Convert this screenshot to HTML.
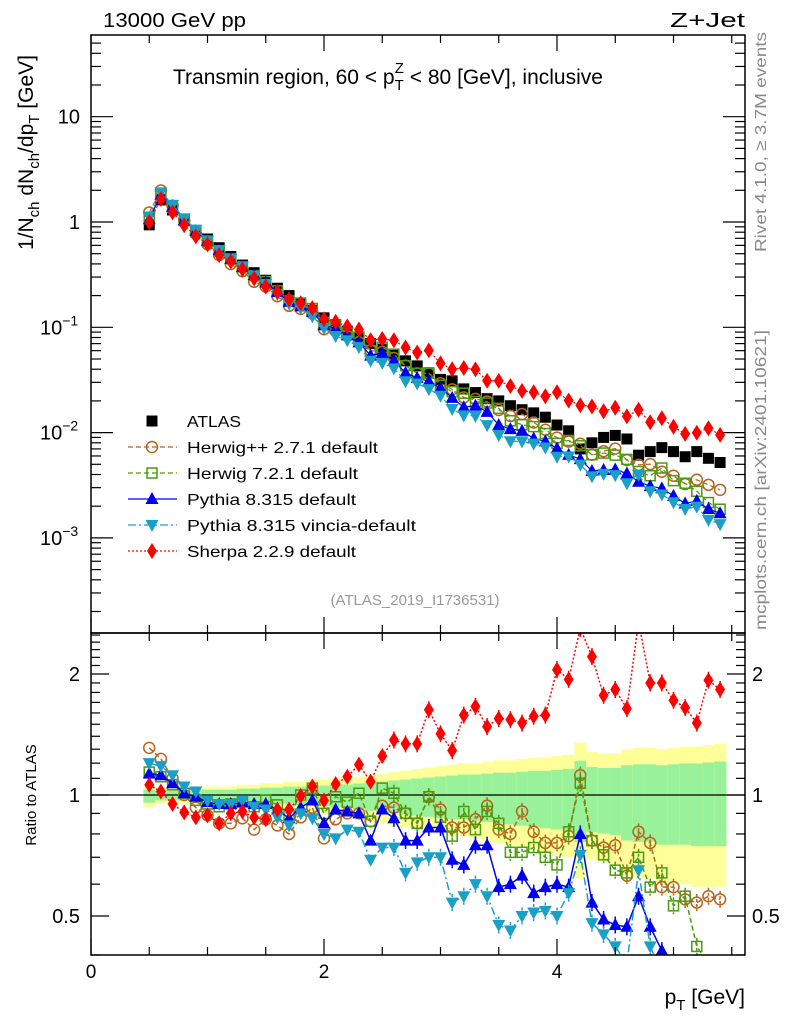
<!DOCTYPE html>
<html><head><meta charset="utf-8">
<style>
html,body{margin:0;padding:0;background:#fff;}
svg{display:block;font-family:"Liberation Sans",Arial,sans-serif;}
</style></head>
<body>
<svg id="chart" width="786" height="1024" viewBox="0 0 786 1024" xmlns="http://www.w3.org/2000/svg">
<defs>
<clipPath id="clipMain"><rect x="91" y="35" width="654" height="598"/></clipPath>
<clipPath id="clipRatio"><rect x="91" y="633" width="654" height="322"/></clipPath>
</defs>
<g id="bands" clip-path="url(#clipRatio)"></g>
<g id="mainSeries" clip-path="url(#clipMain)"></g>
<g id="ratioSeries" clip-path="url(#clipRatio)"></g>
<rect x="91" y="35" width="654" height="598" fill="none" stroke="#000" stroke-width="1.5"/>
<rect x="91" y="633" width="654" height="322" fill="none" stroke="#000" stroke-width="1.5"/>
<g id="axes"></g>
<text x="103" y="27" font-size="20" textLength="143" lengthAdjust="spacingAndGlyphs">13000 GeV pp</text>
<text x="670" y="27" font-size="20" textLength="75" lengthAdjust="spacingAndGlyphs">Z+Jet</text>
<text x="173" y="84" font-size="21">Transmin region, 60 &lt; p<tspan font-size="15" dy="6">T</tspan><tspan font-size="15" dx="-9" dy="-17">Z</tspan><tspan dy="11"> &lt; 80 [GeV], inclusive</tspan></text>
<text transform="translate(33,250) rotate(-90)" font-size="21">1/N<tspan font-size="15" dy="6">ch</tspan><tspan dy="-6"> dN</tspan><tspan font-size="15" dy="6">ch</tspan><tspan dy="-6">/dp</tspan><tspan font-size="15" dy="6">T</tspan><tspan dy="-6"> [GeV]</tspan></text>
<text transform="translate(36,795) rotate(-90)" font-size="15" text-anchor="middle">Ratio to ATLAS</text>
<text x="745" y="1004" font-size="21" text-anchor="end">p<tspan font-size="15" dy="6">T</tspan><tspan dy="-6"> [GeV]</tspan></text>
<text transform="translate(766,252) rotate(-90)" font-size="16" fill="#888" textLength="220" lengthAdjust="spacingAndGlyphs">Rivet 4.1.0, ≥ 3.7M events</text>
<text transform="translate(766,630) rotate(-90)" font-size="16" fill="#888" textLength="300" lengthAdjust="spacingAndGlyphs">mcplots.cern.ch [arXiv:2401.10621]</text>
<text x="415" y="605" font-size="15" fill="#999" text-anchor="middle">(ATLAS_2019_I1736531)</text>
<g id="legend"></g>
</svg>
<script>
const NS='http://www.w3.org/2000/svg';
const pT=[0.5,0.6,0.7,0.8,0.9,1.0,1.1,1.2,1.3,1.4,1.5,1.6,1.7,1.8,1.9,2.0,2.1,2.2,2.3,2.4,2.5,2.6,2.7,2.8,2.9,3.0,3.1,3.2,3.3,3.4,3.5,3.6,3.7,3.8,3.9,4.0,4.1,4.2,4.3,4.4,4.5,4.6,4.7,4.8,4.9,5.0,5.1,5.2,5.3,5.4];
const atlas=[0.94,1.62,1.3,1.03,0.83,0.69,0.57,0.47,0.39,0.33,0.28,0.235,0.2,0.17,0.145,0.123,0.106,0.092,0.08,0.07,0.062,0.055,0.048,0.043,0.037,0.032,0.031,0.026,0.024,0.021,0.020,0.018,0.0165,0.0154,0.014,0.0118,0.0104,0.0070,0.0080,0.0090,0.0094,0.0087,0.0061,0.0066,0.0072,0.0066,0.0059,0.0066,0.0057,0.0052];
const rHerwigpp=[1.31,1.23,1.10,1.0,0.93,0.89,0.85,0.85,0.875,0.82,0.87,0.84,0.80,0.88,0.93,0.78,0.87,0.90,0.90,0.86,0.94,0.93,0.90,0.85,0.99,0.92,0.83,0.83,0.87,0.94,0.82,0.80,0.91,0.81,0.76,0.76,0.79,1.12,0.77,0.74,0.75,0.63,0.81,0.76,0.59,0.59,0.55,0.54,0.56,0.55];
const rHerwig7=[1.14,1.11,1.06,1.01,0.97,0.95,0.935,0.95,0.96,0.935,0.97,0.945,0.89,1.0,1.04,0.90,0.99,0.96,1.01,0.86,1.04,1.01,0.90,0.85,0.99,0.88,0.79,0.91,0.82,0.91,0.85,0.72,0.72,0.74,0.70,0.67,0.81,1.07,0.77,0.71,0.65,0.64,0.70,0.59,0.64,0.53,0.56,0.42,0.38,0.36];
const rPythia=[1.13,1.12,1.07,1.01,0.99,0.96,0.95,0.95,0.96,0.95,0.95,0.92,0.875,0.93,0.97,0.85,0.92,0.91,0.90,0.77,0.92,0.875,0.77,0.77,0.83,0.83,0.69,0.67,0.75,0.75,0.59,0.60,0.63,0.57,0.59,0.60,0.59,0.80,0.54,0.49,0.475,0.47,0.56,0.47,0.41,0.38,0.36,0.34,0.33,0.33];
const rVincia=[1.20,1.18,1.12,1.05,1.02,0.97,0.95,0.95,0.97,0.935,0.92,0.88,0.84,0.90,0.875,0.80,0.78,0.82,0.81,0.69,0.74,0.74,0.64,0.68,0.70,0.70,0.54,0.56,0.60,0.56,0.475,0.46,0.50,0.51,0.515,0.50,0.57,0.71,0.48,0.45,0.42,0.38,0.65,0.42,0.36,0.33,0.32,0.30,0.26,0.26];
const rSherpa=[1.06,1.02,0.95,0.905,0.88,0.89,0.85,0.90,0.91,0.88,0.87,0.92,0.92,0.995,1.05,0.97,1.065,1.11,1.19,1.08,1.25,1.37,1.34,1.34,1.63,1.42,1.29,1.58,1.66,1.48,1.55,1.54,1.51,1.57,1.58,2.05,1.94,2.6,2.21,1.77,1.83,1.64,2.7,1.90,1.90,1.72,1.65,1.51,1.93,1.83];
const yelHi=[1.05,1.04,1.04,1.04,1.04,1.05,1.05,1.05,1.06,1.06,1.07,1.07,1.08,1.08,1.09,1.09,1.10,1.10,1.11,1.12,1.13,1.14,1.15,1.16,1.17,1.18,1.19,1.20,1.20,1.21,1.22,1.22,1.23,1.24,1.24,1.25,1.26,1.35,1.28,1.27,1.27,1.30,1.31,1.31,1.30,1.31,1.32,1.32,1.33,1.34];
const yelLo=[0.93,0.95,0.95,0.95,0.95,0.95,0.95,0.94,0.94,0.93,0.93,0.92,0.92,0.91,0.90,0.90,0.89,0.88,0.87,0.86,0.85,0.84,0.83,0.82,0.81,0.80,0.79,0.79,0.78,0.77,0.76,0.75,0.74,0.73,0.72,0.71,0.70,0.62,0.69,0.68,0.67,0.63,0.62,0.62,0.60,0.60,0.60,0.59,0.59,0.59];
const statFrac=0.62;
const xTicks=[0,2,4];
const ratioTicks=[2,1,0.5];

const X0=91, PX=116.5;
const xS=v=>X0+v*PX;
const yM=v=>222-105.3*Math.log10(v);
const yR=r=>795-121*Math.log2(r);
const bw=0.1;

function mk(tag,attrs,parent){const e=document.createElementNS(NS,tag);for(const k in attrs)e.setAttribute(k,attrs[k]);parent.appendChild(e);return e;}

const bands=document.getElementById('bands');
pT.forEach((p,i)=>{
  const x=xS(p-bw/2), w=PX*bw+0.5;
  const y1=mk('rect',{x:x,y:yR(yelHi[i]),width:w,height:yR(yelLo[i])-yR(yelHi[i]),fill:'#ffff99'},bands);
  
  
  const gh=1+statFrac*(yelHi[i]-1), gl=1-statFrac*(1-yelLo[i]);
  const g1=mk('rect',{x:x,y:yR(gh),width:w,height:yR(gl)-yR(gh),fill:'#99f299'},bands);
  
  
});
const one=mk('line',{x1:91,x2:745,y1:yR(1),y2:yR(1),stroke:'#000','stroke-width':1.2},bands);



function marker(g,type,x,y,color){
  let e;
  if(type==='square'){e=mk('rect',{x:x-5.5,y:y-5.5,width:11,height:11,fill:color},g);}
  else if(type==='osquare'){e=mk('rect',{x:x-5,y:y-5,width:10,height:10,fill:'none',stroke:color,'stroke-width':1.5},g);}
  else if(type==='circle'){e=mk('circle',{cx:x,cy:y,r:5.5,fill:'none',stroke:color,'stroke-width':1.5},g);}
  else if(type==='tri'){e=mk('polygon',{points:`${x},${y-7} ${x-6.5},${y+5} ${x+6.5},${y+5}`,fill:color},g);}
  else if(type==='itri'){e=mk('polygon',{points:`${x},${y+7} ${x-6.5},${y-5} ${x+6.5},${y-5}`,fill:color},g);}
  else {e=mk('polygon',{points:`${x},${y-8} ${x-5},${y} ${x},${y+8} ${x+5},${y}`,fill:color},g);}
  return e;
}
const series=[
 {name:'herwigpp',r:rHerwigpp,color:'#b5651d',m:'circle',dash:'5,3'},
 {name:'herwig7',r:rHerwig7,color:'#4c9a10',m:'osquare',dash:'5,3'},
 {name:'pythia',r:rPythia,color:'#0000ee',m:'tri',dash:''},
 {name:'vincia',r:rVincia,color:'#1a9fc6',m:'itri',dash:'8,3,2,3'},
 {name:'sherpa',r:rSherpa,color:'#ff0000',m:'diamond',dash:'2,2'}
];
const mainG=document.getElementById('mainSeries');
const ratG=document.getElementById('ratioSeries');
pT.forEach((p,i)=>{
  const e=marker(mainG,'square',xS(p),yM(atlas[i]),'#000');
  
  
});
series.forEach(s=>{
  const mainPts=pT.map((p,i)=>xS(p)+','+yM(atlas[i]*s.r[i])).join(' ');
  const l1=mk('polyline',{points:mainPts,fill:'none',stroke:s.color,'stroke-width':1.2,'stroke-dasharray':s.dash},mainG);
  
  
  const ratPts=pT.map((p,i)=>xS(p)+','+yR(s.r[i])).join(' ');
  const l2=mk('polyline',{points:ratPts,fill:'none',stroke:s.color,'stroke-width':1.5,'stroke-dasharray':s.dash},ratG);
  
  
  pT.forEach((p,i)=>{
    const a=marker(mainG,s.m,xS(p),yM(atlas[i]*s.r[i]),s.color);
    
    
    if(p>2.5){
      const eb=mk('line',{x1:xS(p),x2:xS(p),y1:yR(s.r[i]*1.05),y2:yR(s.r[i]/1.05),stroke:s.color,'stroke-width':1.5,'stroke-dasharray':s.dash?'3,2':''},ratG);
      
      
    }
    const b=marker(ratG,s.m,xS(p),yR(s.r[i]),s.color);
    
    
  });
});

const ax=document.getElementById('axes');
function tick(x1,y1,x2,y2,name){const t=mk('line',{x1,y1,x2,y2,stroke:'#000','stroke-width':1.2},ax);}
for(let v=0;v<=5.6;v+=0.5){
  const major=Math.abs(v%2)<1e-6;const L=major?16:8;const x=xS(v);
  tick(x,633,x,633-L,'x-tick');tick(x,35,x,35+L,'x-tick');
  tick(x,955,x,955-L,'x-tick');tick(x,633,x,633+L,'x-tick');
}
xTicks.forEach(v=>{const t=mk('text',{x:xS(v),y:978,'font-size':19,'text-anchor':'middle'},ax);t.textContent=v;});
for(let d=-4;d<=1;d++){for(let m=1;m<10;m++){const v=m*Math.pow(10,d);const y=yM(v);if(y<35||y>633)continue;const L=m===1?22:10;tick(91,y,91+L,y,'y-tick');tick(745,y,745-L,y,'y-tick');}}
const yLabs=[[10,'10',''],[1,'1',''],[0.1,'10','−1'],[0.01,'10','−2'],[0.001,'10','−3']];
yLabs.forEach(l=>{
 const t=mk('text',{x:l[2]?40:80,y:yM(l[0])+7,'font-size':20,'text-anchor':l[2]?'start':'end'},ax);
 t.textContent=l[1];
 if(l[2]){const s=mk('tspan',{'font-size':14,dy:-9},t);s.textContent=l[2];}
});
const rMinor=[0.4,0.5,0.6,0.7,0.8,0.9,1,1.1,1.2,1.3,1.4,1.5,1.6,1.7,1.8,1.9,2,2.1,2.2,2.3,2.4,2.5];
rMinor.forEach(v=>{const y=yR(v);const L=(v===0.5||v===1||v===2)?18:9;tick(91,y,91+L,y,'ratio-tick');tick(745,y,745-L,y,'ratio-tick');});
ratioTicks.forEach(v=>{
 const t=mk('text',{x:80,y:yR(v)+7,'font-size':20,'text-anchor':'end'},ax);t.textContent=v;
 const t2=mk('text',{x:752,y:yR(v)+7,'font-size':20},ax);t2.textContent=v;
});

const lg=document.getElementById('legend');
const legItems=[['ATLAS','square','#000','',54],['Herwig++ 2.7.1 default','circle','#b5651d','5,3',191],['Herwig 7.2.1 default','osquare','#4c9a10','5,3',171],['Pythia 8.315 default','tri','#0000ee','',169],['Pythia 8.315 vincia-default','itri','#1a9fc6','8,3,2,3',229],['Sherpa 2.2.9 default','diamond','#ff0000','2,2',169]];
legItems.forEach((it,i)=>{
 const y=421+i*26;
 const g=mk('g',{},lg);
 
 
 if(i>0){mk('line',{x1:128,x2:177,y1:y,y2:y,stroke:it[2],'stroke-width':1.2,'stroke-dasharray':it[3]},g);}
 marker(g,it[1],152,y,it[2]);
 const t=mk('text',{x:187,y:y+6,'font-size':16,textLength:it[4],lengthAdjust:'spacingAndGlyphs'},g);t.textContent=it[0];
});
</script>
</body></html>
